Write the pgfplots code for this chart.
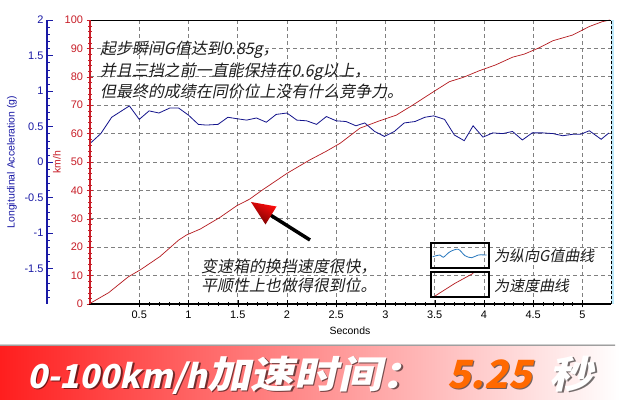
\documentclass[border=0pt]{standalone}
\usepackage{fontspec}
\setmainfont{Liberation Sans}
\newfontfamily\cjk[FakeSlant=0.2]{Noto Sans CJK SC}
\newfontfamily\bannerfont[FakeSlant=0.22]{Noto Sans CJK SC}
\newfontfamily\bannercjk[FakeSlant=0.22,FakeStretch=1.15]{Noto Sans CJK SC}
\usepackage{pgfplots}
\pgfplotsset{compat=1.18}
\usetikzlibrary{calc}

\definecolor{kmred}{RGB}{200,30,40}
\definecolor{gblue}{RGB}{25,25,165}
\definecolor{gcurve}{RGB}{20,20,140}
\definecolor{vcurve}{RGB}{180,25,30}
\definecolor{legblue}{RGB}{40,120,190}
\definecolor{bannerred}{RGB}{255,30,30}
\definecolor{numorange}{RGB}{255,105,0}
\definecolor{notetext}{RGB}{30,30,30}

\newcommand\bannertext[2]{%
  {\bfseries\bannerfont\fontsize{33}{33}\selectfont\textcolor{#1}{0-100km/h}}%
  {\bfseries\bannercjk\fontsize{38}{38}\selectfont\textcolor{#1}{加速时间：}}\hspace{22bp}%
  {\bfseries\bannerfont\fontsize{39}{39}\selectfont\textcolor{#2}{5.25}}\hspace{18bp}%
  {\bfseries\bannercjk\fontsize{38}{38}\selectfont\textcolor{#1}{秒}}}

\begin{document}
\begin{tikzpicture}
\path[use as bounding box, fill=white] (0,0) rectangle (620bp,400bp);

% speed, km/h
\begin{axis}[
    name=main,
    at={(90bp,96bp)}, anchor=south west,
    scale only axis, width=521bp, height=284bp,
    xmin=0, xmax=5.29, ymin=0, ymax=100,
    axis line style={draw=none},
    xtick={0.5,1,...,5}, ytick={0,10,...,100},
    minor x tick num=4, minor y tick num=4,
    tick pos=left, tick align=center,
    major tick length=7bp, minor tick length=4bp,
    ytick style={kmred}, xtick style={black},
    grid=major,
    major grid style={gray, dash pattern=on 4bp off 3bp, line width=0.7bp},
    tick label style={font=\fontsize{11}{13}\selectfont},
    yticklabel style={kmred},
    /pgf/number format/assume math mode=true,
]
\addplot[vcurve, line width=0.7bp] coordinates {
    (0,0.2) (0.19,4.0) (0.39,9.6) (0.51,12.0) (0.71,16.7) (0.90,22.5)
    (0.98,24.3) (1.12,26.4) (1.32,30.5) (1.49,34.6) (1.62,36.9) (1.74,39.9)
    (2.00,46.0) (2.23,50.7) (2.40,53.8) (2.54,56.6) (2.74,61.9) (2.94,64.5)
    (3.11,66.5) (3.28,70.1) (3.49,74.8) (3.65,78.3) (3.79,79.8) (3.95,82.1)
    (4.12,84.2) (4.29,86.9) (4.41,88.0) (4.56,90.2) (4.70,92.7) (4.90,94.7)
    (5.07,97.7) (5.20,99.4) (5.28,100)
};
\end{axis}

% longitudinal acceleration, g
\begin{axis}[
    at={(47bp,96bp)}, anchor=south west,
    scale only axis, width=564bp, height=284bp,
    xmin=-0.4366, xmax=5.29, ymin=-2, ymax=2,
    hide x axis, axis y line*=left,
    axis line style={gblue, line width=2.5bp, -},
    ytick={-1.5,-1,-0.5,0,0.5,1,1.5,2},
    minor ytick={-1.9,-1.8,-1.7,-1.6,-1.4,-1.3,-1.2,-1.1,-0.9,-0.8,-0.7,-0.6,-0.4,-0.3,-0.2,-0.1,0.1,0.2,0.3,0.4,0.6,0.7,0.8,0.9,1.1,1.2,1.3,1.4,1.6,1.7,1.8,1.9},
    tick align=inside,
    major tick length=6bp, minor tick length=3.5bp,
    ytick style={gblue},
    yticklabel style={gblue, font=\fontsize{11}{13}\selectfont},
    /pgf/number format/assume math mode=true,
]
\addplot[gcurve, line width=0.8bp] coordinates {
    (0,0.26) (0.11,0.40) (0.22,0.63) (0.31,0.71) (0.40,0.79) (0.50,0.60)
    (0.60,0.72) (0.70,0.69) (0.81,0.76) (0.90,0.76) (1.00,0.66) (1.10,0.53)
    (1.18,0.52) (1.30,0.53) (1.40,0.63) (1.49,0.61) (1.59,0.59) (1.69,0.62)
    (1.79,0.56) (1.89,0.67) (2.00,0.69) (2.10,0.59) (2.20,0.58) (2.30,0.53)
    (2.40,0.64) (2.50,0.58) (2.60,0.57) (2.70,0.51) (2.79,0.55) (2.89,0.43)
    (2.99,0.36) (3.09,0.43) (3.19,0.55) (3.30,0.57) (3.40,0.63) (3.49,0.65)
    (3.60,0.60) (3.70,0.38) (3.80,0.30) (3.89,0.51) (3.99,0.35) (4.09,0.41)
    (4.19,0.40) (4.29,0.43) (4.39,0.31) (4.49,0.41) (4.60,0.41) (4.70,0.40)
    (4.80,0.37) (4.90,0.39) (4.98,0.39) (5.07,0.44) (5.19,0.32) (5.27,0.41)
};
\end{axis}

% frame of the main axis
\draw[cyan!25, line width=3bp] ($(main.south east)+(1.5bp,0)$) -- ($(main.north east)+(1.5bp,0)$);
\draw[black, dash pattern=on 3bp off 2bp, line width=0.8bp] (main.south east) -- (main.north east);
\draw[black, line width=0.8bp] (main.north west) -- (main.north east);
\draw[black, line width=2.5bp] ($(main.south west)+(-1.25bp,0)$) -- (main.south east);
\draw[kmred, line width=2.5bp] (main.south west) -- (main.north west);

\begin{scope}[x=1bp, y=1bp]
% axis titles
\node[rotate=90, text=gblue, font=\fontsize{10.5}{12}\selectfont] at (12,238) {Longitudinal Acceleration (g)};
\node[rotate=90, text=kmred, font=\fontsize{10.5}{12}\selectfont] at (57,238) {km/h};
\node[font=\fontsize{10.5}{12}\selectfont] at (350,69) {Seconds};

% notes
\begin{scope}[every node/.style={anchor=base west, inner sep=0, text=notetext, font=\cjk\fontsize{16}{18}\selectfont}]
\node at (100,346) {起步瞬间G值达到0.85g，};
\node at (100,324) {并且三挡之前一直能保持在0.6g以上，};
\node at (100,303) {但最终的成绩在同价位上没有什么竞争力。};
\node at (201,128) {变速箱的换挡速度很快，};
\node at (201,109) {平顺性上也做得很到位。};
\end{scope}

% arrow
\draw[black, line width=3.5bp] (310,160) -- (268,186.5);
\shade[top color=red!95!white, bottom color=red!45!black, shading angle=-30]
    (251,198) -- (276.5,193.5) -- (265.5,175.5) -- cycle;

% legend
\draw[black, line width=2bp] (431,132) rectangle (489,157.3);
\draw[black, line width=2bp] (431,103) rectangle (489,128.3);
\draw[legblue, line width=0.8bp] plot[smooth] coordinates {
    (432.7,143.3) (440,145) (443.3,142.7) (450,148.3) (458.3,150.7)
    (465,144.3) (471.7,142.3) (478.3,145) (486.7,145)};
\draw[vcurve, line width=0.7bp] (435,104) -- (455,116.7) -- (473.3,126.7);
\begin{scope}[every node/.style={anchor=base west, inner sep=0, text=notetext, font=\cjk\fontsize{15}{17}\selectfont}]
\node at (494,139) {为纵向G值曲线};
\node at (494,109) {为速度曲线};
\end{scope}

% banner
\shade[top color=white, bottom color=black!75] (0,53) rectangle (615,57);
\shade[left color=bannerred, right color=white] (0,0) rectangle (620,53);
\node[anchor=base west, inner sep=0, opacity=0.55] at (28.5,10.5) {\bannertext{black}{black}};
\node[anchor=base west, inner sep=0] at (27,12) {\bannertext{white}{numorange}};
\end{scope}
\end{tikzpicture}
\end{document}
